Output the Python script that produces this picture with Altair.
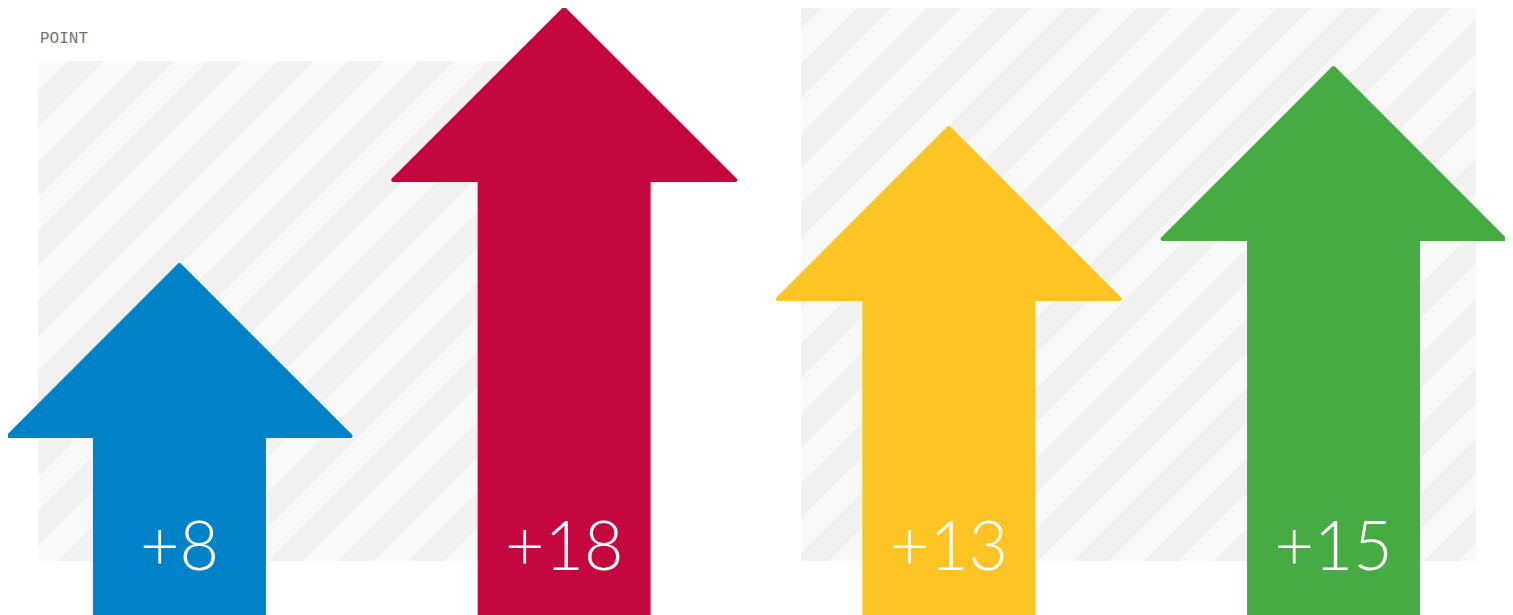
import math
import altair as alt
import pandas as pd

# ---- data ----
categories = ["A", "B", "C", "D"]
groups = ["left", "left", "right", "right"]
values = [8, 18, 13, 15]
panel_title = "POINT"

# ---- styles ----
PALETTE = ["#0082C8", "#C4083F", "#FEC423", "#45AB42"]
LIGHT = "#f9f9f9"
DARK = "#f0f1f0"
W, H = 1497, 607
STROKE = 4
HEAD_W = 346 - STROKE   # arrow head base width (px) without stroke
SHAFT_W = 173

df = pd.DataFrame({"cat": categories, "group": groups, "value": values})


def stripe_fill(w, h, phase, period=49.5):
    L = (w + h) / math.sqrt(2)
    s = (1 / h + 1 / w) / (1 / h ** 2 + 1 / w ** 2)
    half = period / 2
    k = math.floor((0 - phase) / half)
    col = lambda kk: LIGHT if kk % 2 == 0 else DARK
    stops = [alt.GradientStop(color=col(k), offset=0)]
    b = phase + (k + 1) * half
    cur = k
    while b < L:
        off = b / L
        stops.append(alt.GradientStop(color=col(cur), offset=off))
        cur += 1
        stops.append(alt.GradientStop(color=col(cur), offset=off))
        b += half
    stops.append(alt.GradientStop(color=col(cur), offset=1))
    return alt.LinearGradient(gradient="linear", stops=stops,
                              x1=0, y1=0, x2=s / h, y2=s / w)


one = pd.DataFrame({"k": [0]})


def panel(x0, x1, y0, y1, phase):
    return alt.Chart(one).mark_rect(color=stripe_fill(x1 - x0, y1 - y0, phase)).encode(
        x=alt.value(x0), x2=alt.value(x1), y=alt.value(y0), y2=alt.value(y1)
    )


bg_left = panel(30, 592, 53, 553, -3.5)
bg_right = panel(793, 1468, 0, 553, 14.8)

xenc = alt.X("cat:N", scale=alt.Scale(type="point", domain=categories, padding=0.4457), axis=None)
cenc = alt.Color("cat:N", scale=alt.Scale(domain=categories, range=PALETTE), legend=None)
senc = alt.Stroke("cat:N", scale=alt.Scale(domain=categories, range=PALETTE), legend=None)

HEAD_PATH = "M0,0L1,1L-1,1Z"


def arrows(group, domain):
    base = alt.Chart(df).transform_filter(alt.datum.group == group)
    yenc = alt.Y("value:Q", scale=alt.Scale(domain=domain, nice=False, zero=False), axis=None)
    shaft = base.mark_bar(size=SHAFT_W, yOffset=HEAD_W / 2, opacity=1).encode(
        x=xenc, y=yenc, y2=alt.datum(domain[0]), color=cenc
    )
    head = base.mark_point(shape=HEAD_PATH, size=HEAD_W ** 2, filled=True, opacity=1,
                           strokeWidth=STROKE, strokeJoin="round", strokeOpacity=1).encode(
        x=xenc, y=yenc, color=cenc, stroke=senc
    )
    return alt.layer(shaft, head)


left = arrows("left", [-5.672, 18.039])
right = arrows("right", [-3.233, 17.0])

labels = alt.Chart(df).transform_calculate(label="'+' + datum.value").mark_text(
    font="Lato", fontWeight=300, fontSize=68, color="white",
    align="center", baseline="alphabetic"
).encode(x=xenc, y=alt.value(562), text="label:N")

title = alt.Chart(one).mark_text(
    text=panel_title, font="Liberation Mono", fontSize=16, color="#707070",
    align="left", baseline="alphabetic"
).encode(x=alt.value(32), y=alt.value(35))

chart = alt.layer(bg_left, bg_right, left, right, labels, title).resolve_scale(
    y="independent"
).properties(
    width=W, height=H, padding=0, autosize=alt.AutoSizeParams(type="none")
).configure_view(stroke=None)

chart.save("out.html", embed_options={"renderer": "svg", "actions": False})
